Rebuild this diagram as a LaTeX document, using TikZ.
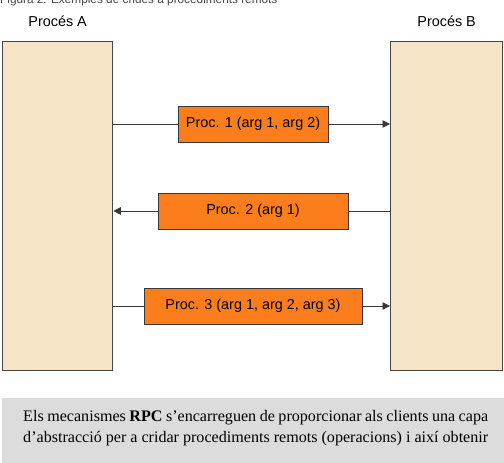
\documentclass[tikz,border=0pt]{standalone}
\usepackage{fontspec}
\usepackage{xcolor}
\usepackage{tikz}
\usetikzlibrary{arrows.meta,positioning}
\newfontfamily\labfont{Liberation Sans}
\newfontfamily\txtfont{Liberation Serif}
\definecolor{inkgray}{RGB}{70,70,70}
\definecolor{procfill}{RGB}{245,228,197}
\definecolor{callfill}{RGB}{252,125,28}
\definecolor{notefill}{RGB}{220,220,220}

\begin{document}
\begin{tikzpicture}[
  x=1pt, y=1pt,
  procbox/.style={draw=inkgray, line width=1.3pt, fill=procfill, rectangle, anchor=north west, minimum width=110pt, minimum height=329pt, inner sep=0pt},
  callbox/.style={draw=inkgray!80!black, line width=0.8pt, fill=callfill, rectangle, minimum height=36pt, inner sep=0pt, font=\labfont\fontsize{14.4}{16}\selectfont},
  lab/.style={inner sep=0pt, font=\labfont\fontsize{14.4}{16}\selectfont},
  note/.style={inner sep=0pt, anchor=base west, font=\txtfont\fontsize{16.1}{20}\selectfont},
  arr/.style={-{Triangle[length=7.5pt, width=7.5pt]}, line width=0.8pt, draw=inkgray!80!black}
]
\useasboundingbox (0,0) rectangle (504,463);
\fill[notefill] (2,0) rectangle (504,65);
\node[inner sep=0pt, anchor=base west, text=inkgray, font=\labfont\fontsize{11.8}{14}\selectfont] (cap) at (0,459) {Figura 2. Exemples de crides a procediments remots};
\node[procbox] (pa) at (2,422) {};
\node[procbox, minimum width=112pt] (pb) at (390,422) {};
\node[lab, anchor=south, above=14pt of pa.north] (la) {Procés A};
\node[lab, anchor=south, above=14pt of pb.north] (lb) {Procés B};
\node[callbox, minimum width=150pt] (c1) at (253,339) {Proc. 1 (arg 1, arg 2)};
\node[callbox, minimum width=190pt] (c2) at (253,252) {Proc. 2 (arg 1)};
\node[callbox, minimum width=218pt] (c3) at (253,157) {Proc. 3 (arg 1, arg 2, arg 3)};
\draw[arr, -] (pa.east |- c1.west) -- (c1.west); \draw[arr] (c1.east) -- (pb.west |- c1.east);
\draw[arr, -] (pb.west |- c2.east) -- (c2.east); \draw[arr] (c2.west) -- (pa.east |- c2.west);
\draw[arr, -] (pa.east |- c3.west) -- (c3.west); \draw[arr] (c3.east) -- (pb.west |- c3.east);
\node[note] (t1) at (23,41) {\makebox[465pt][s]{Els mecanismes \textbf{RPC} s’encarreguen de proporcionar als clients una capa}};
\node[note] (t2) at (23,20) {\makebox[465pt][s]{d’abstracció per a cridar procediments remots (operacions) i així obtenir}};
\end{tikzpicture}
\end{document}
